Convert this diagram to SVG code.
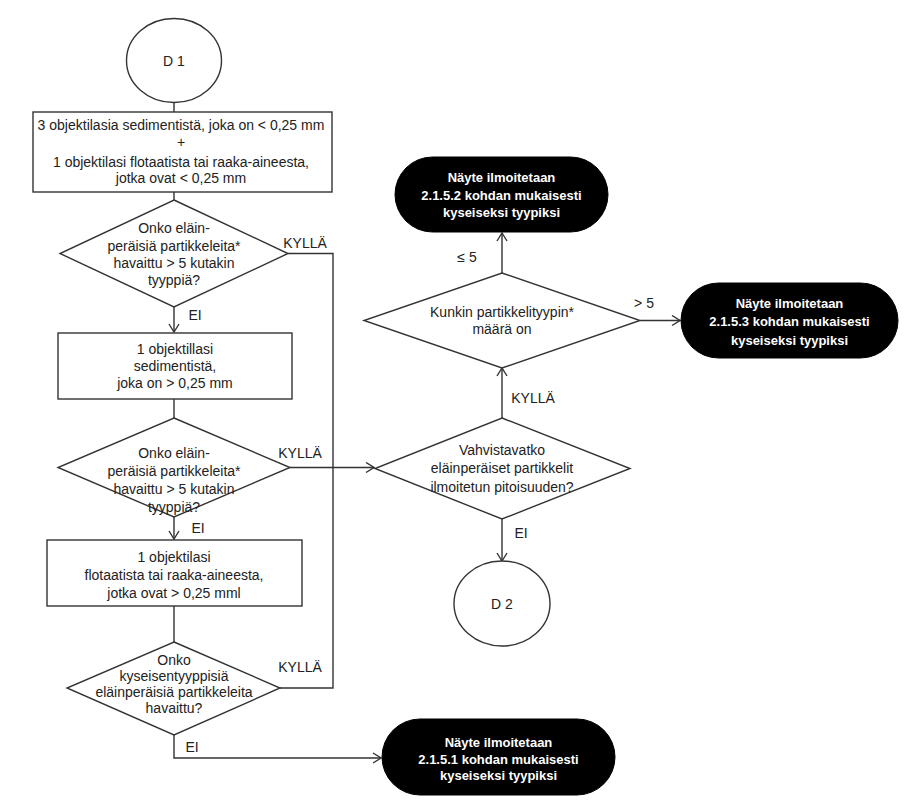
<svg xmlns="http://www.w3.org/2000/svg" width="911" height="807" viewBox="0 0 911 807">
<style>
.s{fill:#fff;stroke:#333;stroke-width:1.4}
.t{fill:#000;stroke:#000;stroke-width:1}
.c{fill:none;stroke:#333;stroke-width:1.4}
text{font-family:"Liberation Sans",Arial,sans-serif;font-size:14px;fill:#222;text-anchor:middle}
.w{fill:#fff;font-weight:bold;font-size:13px}
</style>
<defs>
<marker id="a" markerWidth="10" markerHeight="12" refX="9" refY="6" orient="auto" markerUnits="userSpaceOnUse">
<path d="M1,1 L9,6 L1,11" fill="none" stroke="#333" stroke-width="1.4"/>
</marker>
</defs>
<rect width="911" height="807" fill="#fff"/>
<g id="connectors">
<path class="c" d="M174,102 V112"/>
<path class="c" d="M174,192 V200"/>
<path class="c" d="M174,307 V332" marker-end="url(#a)"/>
<path class="c" d="M174,399 V418"/>
<path class="c" d="M174,517 V539" marker-end="url(#a)"/>
<path class="c" d="M174,606 V642"/>
<path class="c" d="M174,735 V758 H381" marker-end="url(#a)"/>
<path class="c" d="M288,253.5 H333 V688 H280"/>
<path class="c" d="M290,467.5 H374" marker-end="url(#a)"/>
<path class="c" d="M502,418 V368" marker-end="url(#a)"/>
<path class="c" d="M502,273 V233" marker-end="url(#a)"/>
<path class="c" d="M640,320.5 H680" marker-end="url(#a)"/>
<path class="c" d="M502,519 V561" marker-end="url(#a)"/>
<text x="305" y="248">KYLLÄ</text>
<text x="300" y="458">KYLLÄ</text>
<text x="300" y="672">KYLLÄ</text>
<text x="533" y="403">KYLLÄ</text>
<text x="195" y="320">EI</text>
<text x="198" y="533">EI</text>
<text x="192" y="752">EI</text>
<text x="521" y="538">EI</text>
<text x="467" y="262">≤ 5</text>
<text x="644" y="308">&gt; 5</text>
</g>
<g id="d1">
<ellipse class="s" cx="174" cy="60.5" rx="47.5" ry="42"/>
<text x="174" y="65.5">D 1</text>
</g>
<g id="box1">
<rect class="s" x="33" y="112" width="299" height="80"/>
<text x="181" y="130">3 objektilasia sedimentistä, joka on &lt; 0,25 mm</text>
<text x="181" y="147">+</text>
<text x="181" y="167">1 objektilasi flotaatista tai raaka-aineesta,</text>
<text x="181" y="183">jotka ovat  &lt; 0,25 mm</text>
</g>
<g id="q1">
<polygon class="s" points="174,200 288,253.5 174,307 60,253.5"/>
<text x="174" y="233">Onko eläin-</text>
<text x="174" y="251">peräisiä partikkeleita*</text>
<text x="174" y="268">havaittu &gt; 5 kutakin</text>
<text x="174" y="285">tyyppiä?</text>
</g>
<g id="box2">
<rect class="s" x="58" y="333" width="234" height="66"/>
<text x="175" y="354">1 objektillasi</text>
<text x="175" y="371">sedimentistä,</text>
<text x="175" y="388">joka on  &gt; 0,25 mm</text>
</g>
<g id="q2">
<polygon class="s" points="174,418 290,467.5 174,517 58,467.5"/>
<text x="174" y="458">Onko eläin-</text>
<text x="174" y="476">peräisiä partikkeleita*</text>
<text x="174" y="494">havaittu &gt; 5 kutakin</text>
<text x="174" y="512">tyyppiä?</text>
</g>
<g id="box3">
<rect class="s" x="47" y="540" width="255" height="66"/>
<text x="174" y="562">1 objektilasi</text>
<text x="174" y="580">flotaatista tai raaka-aineesta,</text>
<text x="174" y="598">jotka ovat &gt; 0,25 mml</text>
</g>
<g id="q3">
<polygon class="s" points="174,642 280,688 174,735 67,688"/>
<text x="174" y="665">Onko</text>
<text x="174" y="681">kyseisentyyppisiä</text>
<text x="174" y="697">eläinperäisiä partikkeleita</text>
<text x="174" y="713">havaittu?</text>
</g>
<g id="end1">
<rect class="t" x="382" y="719" width="233" height="76" rx="38" ry="38"/>
<text class="w" x="498.5" y="747">Näyte ilmoitetaan</text>
<text class="w" x="498.5" y="763.5">2.1.5.1 kohdan mukaisesti</text>
<text class="w" x="498.5" y="780">kyseiseksi tyypiksi</text>
</g>
<g id="q4">
<polygon class="s" points="502,418 630,468.5 502,519 375,468.5"/>
<text x="502" y="455">Vahvistavatko</text>
<text x="502" y="473">eläinperäiset partikkelit</text>
<text x="502" y="492">ilmoitetun pitoisuuden?</text>
</g>
<g id="q5">
<polygon class="s" points="502,273 640,320.5 502,368 364,320.5"/>
<text x="502" y="317">Kunkin partikkelityypin*</text>
<text x="502" y="334">määrä on</text>
</g>
<g id="end2">
<rect class="t" x="395" y="157" width="213" height="75" rx="37.5" ry="37.5"/>
<text class="w" x="501.5" y="182">Näyte ilmoitetaan</text>
<text class="w" x="501.5" y="199.5">2.1.5.2 kohdan mukaisesti</text>
<text class="w" x="501.5" y="217">kyseiseksi tyypiksi</text>
</g>
<g id="end3">
<rect class="t" x="681" y="283" width="217" height="75" rx="37.5" ry="37.5"/>
<text class="w" x="789.5" y="308">Näyte ilmoitetaan</text>
<text class="w" x="789.5" y="326">2.1.5.3 kohdan mukaisesti</text>
<text class="w" x="789.5" y="345">kyseiseksi tyypiksi</text>
</g>
<g id="d2">
<ellipse class="s" cx="502" cy="603.5" rx="48" ry="42.5"/>
<text x="502" y="608.5">D 2</text>
</g>
</svg>
